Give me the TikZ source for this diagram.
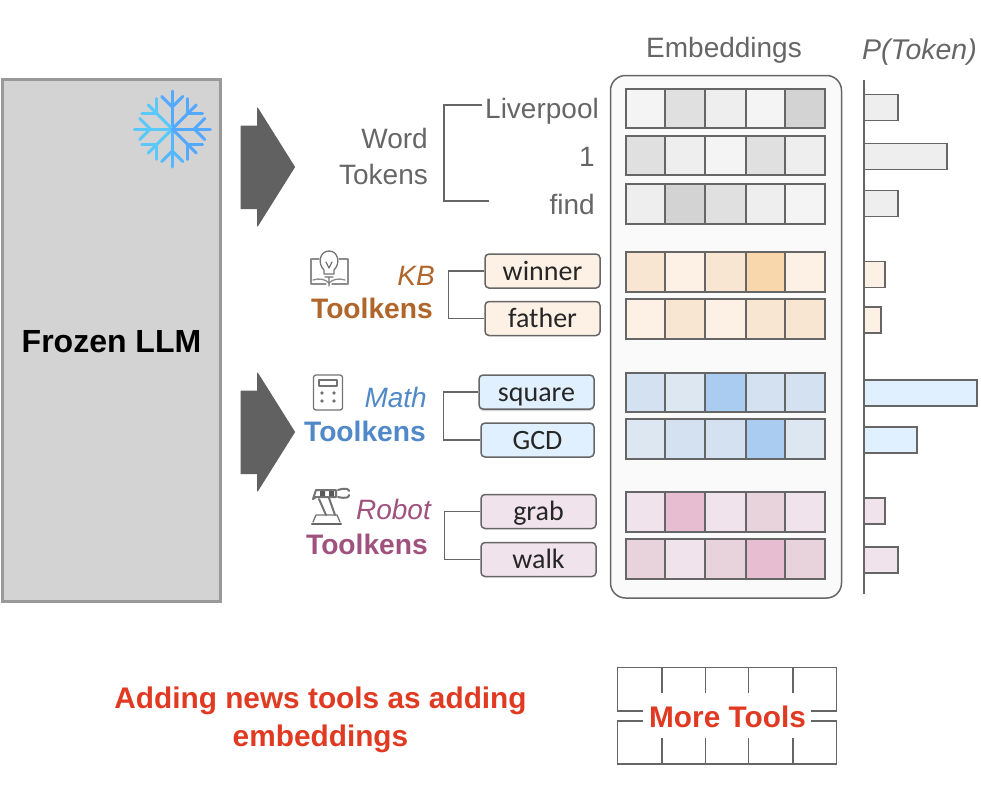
\documentclass[tikz,border=0pt]{standalone}
\usepackage{fontspec}
\setmainfont{Liberation Sans}
\newfontfamily\calib{Carlito}
\usetikzlibrary{shadows}
\definecolor{gA}{HTML}{F4F4F4}\definecolor{gB}{HTML}{EEEEEE}\definecolor{gC}{HTML}{E0E0E0}\definecolor{gD}{HTML}{D3D3D3}
\definecolor{oA}{HTML}{FDF1E5}\definecolor{oB}{HTML}{F8E6D3}\definecolor{oC}{HTML}{F8D7AD}
\definecolor{bA}{HTML}{DDE7F2}\definecolor{bB}{HTML}{D3E1F1}\definecolor{bC}{HTML}{A9CCF0}\definecolor{bL}{HTML}{E1F0FF}
\definecolor{pA}{HTML}{F1E3EB}\definecolor{pB}{HTML}{E8D3DC}\definecolor{pC}{HTML}{E6BDD1}
\definecolor{lineg}{HTML}{666666}\definecolor{txtg}{HTML}{666666}
\definecolor{kbc}{HTML}{B0652B}\definecolor{mathc}{HTML}{5088C8}\definecolor{robc}{HTML}{A0527E}
\definecolor{redc}{HTML}{E03A22}
\newcommand{\embrow}[7]{%
  \foreach \xa/\xb/\cc in {626/665/#3,665/705/#4,705/746/#5,746/785/#6,785/825/#7}{
    \draw[cellline,fill=\cc] (\xa,#1) rectangle (\xb,#2);}
}
\newcommand{\pbar}[4]{\draw[barline,fill=#4] (864,#1) rectangle (#3,#2);}
\tikzset{
  cellline/.style={draw=lineg,line width=1.6pt},
  barline/.style={draw=lineg,line width=1.4pt},
  conn/.style={draw=lineg,line width=1.2pt},
  lbl/.style={anchor=base,inner sep=0pt,font=\fontsize{28}{30}\selectfont,text=txtg},
  tool/.style={draw=lineg,line width=1.5pt,rounded corners=4pt,inner sep=0pt,minimum height=34pt,
     text height=22pt,text depth=4pt,font=\calib\fontsize{28}{30}\selectfont,text=black!85},
  group/.style={anchor=base east,inner sep=0pt,font=\fontsize{28}{30}\selectfont\itshape},
  groupb/.style={anchor=base east,inner sep=0pt,font=\fontsize{28.2}{30}\selectfont\bfseries},
  redt/.style={anchor=base,inner sep=0pt,font=\fontsize{29.8}{32}\selectfont\bfseries,text=redc},
  icon/.style={draw=black!55,line width=1.3pt,line cap=round,line join=round},
  fat/.style={fill=black!62,draw=black!62,line width=1pt,line join=round},
}
\begin{document}
\begin{tikzpicture}[x=1pt,y=-1pt]
\useasboundingbox (0,0) rectangle (981,793);
% frozen LLM
\node[draw=black!40,line width=2.4pt,fill=gD,minimum width=218pt,minimum height=522pt,inner sep=0pt] (llm) at (111.5,340.5) {};
\node[anchor=base,inner sep=0pt,font=\fontsize{32}{34}\selectfont\bfseries] (llmt) at (111.5,352) {Frozen LLM};
% snowflake
\foreach \a/\cc/\rr in {0/53A8FF/38,45/53A8FF/34,90/53A8FF/38,135/5AC8FA/34,180/5AC8FA/38,225/5AC8FA/34,270/53B8FF/38,315/53A8FF/34}{
  \definecolor{sf}{HTML}{\cc}
  \begin{scope}[shift={(172.3,129)},rotate=\a,draw=sf,line width=3pt,line cap=round,line join=round]
    \draw (0,0) -- (\rr,0);
    \draw (32.5,-10.5) -- (22,0) -- (32.5,10.5);
  \end{scope}
}
% arrows
\foreach \dy in {0,265}{
  \draw[fat,yshift=-\dy pt] (241,126) -- (257.5,126) -- (257.5,108) -- (294.5,167) -- (257.5,226) -- (257.5,208.5) -- (241,208.5) -- cycle;
}
% word tokens
\node[lbl,anchor=base east] (word) at (428,148) {Word};
\node[lbl,anchor=base east] (toks) at (428,184) {Tokens};
\node[lbl,anchor=base west,text=txtg] (liv) at (485,118) {Liverpool};
\node[lbl,anchor=base east] (one) at (595,166) {1};
\node[lbl,anchor=base east] (find) at (595,214) {find};
\coordinate (findend) at (489,201);
\coordinate (livend) at (482,105);
\draw[conn] (livend) -- (444,105) |- (findend);
% tool boxes
\node[tool,fill=oA,minimum width=115pt] (winner) at (542.5,271) {winner};
\node[tool,fill=oA,minimum width=115pt] (father) at (542.5,318.5) {father};
\node[tool,fill=bL,minimum width=115pt,drop shadow={opacity=.35,shadow xshift=0pt,shadow yshift=-2pt}] (square) at (536.5,392) {square};
\node[tool,fill=bL,minimum width=113pt] (gcd) at (537.5,440) {GCD};
\node[tool,fill=pA,minimum width=115pt] (grab) at (538.5,511.5) {grab};
\node[tool,fill=pA,minimum width=115pt] (walk) at (538.5,559.5) {walk};
\draw[conn] (winner.west) -- ++(-36,0) |- (father.west);
\draw[conn] (square.west) -- ++(-35,0) |- (gcd.west);
\draw[conn] (grab.west) -- ++(-36,0) |- (walk.west);
% group labels
\node[group,text=kbc] (kb) at (435,285) {KB};
\node[groupb,text=kbc] (kbt) at (433,318) {Toolkens};
\node[group,text=mathc] (mth) at (427,407) {Math};
\node[groupb,text=mathc] (mtht) at (426,441) {Toolkens};
\node[group,text=robc] (rob) at (431,519) {Robot};
\node[groupb,text=robc] (robt) at (428,554) {Toolkens};
% book + bulb icon
\draw[icon,black!45] (319,259) -- (311,259) -- (311,284) -- (326,284) (339,259) -- (348,259) -- (348,284) -- (332,284);
\draw[icon,black!45] (313,280) .. controls (319,278) and (325,279) .. (329,283) .. controls (333,279) and (339,278) .. (345,280);
\draw[icon] (324,270) .. controls (317,263) and (320,251) .. (329,251) .. controls (338,251) and (341,263) .. (334,270) -- (334,274) -- (324,274) -- cycle;
\draw[icon] (325,277) -- (333,277) (329,277) -- (329,286) (326,262) -- (329,268) -- (332,262);
% calculator icon
\draw[icon,rounded corners=2.5pt] (313.5,375) rectangle (342.5,410);
\draw[icon] (319,380) rectangle (337,386);
\foreach \px/\py in {322/393,334/393,322/401,334/401}{\fill[black!55] (\px,\py) circle (1.8pt);}
% robot arm icon
\draw[icon,line width=2.2pt,black!60] (312,524) -- (341,524);
\draw[icon,black!55] (313,522) -- (316,515) -- (337,515) -- (340,522);
\draw[icon,line width=2pt] (319,499) -- (326,515) (329,498) -- (335,515);
\draw[icon,line width=2pt] (313,499) -- (316,490) -- (336,490) -- (336,497) -- (316,497) -- cycle;
\fill[black!65] (320,491) rectangle (325,496) (329,491) rectangle (334,496);
\draw[icon,line width=2pt] (338,490) .. controls (347,487) and (349,490) .. (349,491) (338,497) .. controls (347,499) and (349,497) .. (349,495);
% embeddings
\node[lbl] (emb) at (724,57) {Embeddings};
\node[lbl,font=\fontsize{28.5}{30}\selectfont\itshape] (ptok) at (919.5,59) {P(Token)};
\draw[draw=lineg,line width=1.5pt,fill=black!2,rounded corners=15pt] (610.5,75.5) rectangle (841.5,598);
\embrow{89}{128}{gA}{gC}{gB}{gA}{gD}
\embrow{136}{175}{gC}{gB}{gA}{gC}{gB}
\embrow{184}{224}{gB}{gD}{gC}{gB}{gA}
\embrow{252}{292}{oB}{oA}{oB}{oC}{oA}
\embrow{299}{339}{oA}{oB}{oA}{oB}{oB}
\embrow{373}{412}{bB}{bA}{bC}{bB}{bB}
\embrow{419}{459}{bA}{bB}{bB}{bC}{bA}
\embrow{492}{532}{pA}{pC}{pA}{pB}{pA}
\embrow{539}{579}{pB}{pA}{pB}{pC}{pB}
% bars
\pbar{94.5}{120.5}{898}{gB}
\pbar{143.5}{169.5}{947}{gB}
\pbar{190.5}{216.5}{898}{gB}
\pbar{261.5}{287.5}{885}{oA}
\pbar{307}{333}{881}{oA}
\pbar{380}{406}{977}{bL}
\pbar{427}{453}{917}{bL}
\pbar{498}{524}{885}{pA}
\pbar{547}{573}{898}{pA}
\draw[line width=1.5pt,draw=lineg] (864,80) -- (864,594);
% more tools
\draw[conn,line width=1.7pt] (643,711) -- (617.5,711) -- (617.5,667.5) -- (836.5,667.5) -- (836.5,711) -- (811,711);
\draw[conn,line width=1.7pt] (643,721) -- (617.5,721) -- (617.5,764) -- (836.5,764) -- (836.5,721) -- (811,721);
\foreach \x in {662,705.5,748.5,793}{
  \draw[conn,line width=1.7pt] (\x,667.5) -- (\x,693);
  \draw[conn,line width=1.7pt] (\x,738) -- (\x,764);
}
\node[redt] (more) at (727.5,727) {More Tools};
% red caption
\node[redt] (cap1) at (320.5,708) {Adding news tools as adding};
\node[redt] (cap2) at (320.5,746) {embeddings};
\end{tikzpicture}
\end{document}
